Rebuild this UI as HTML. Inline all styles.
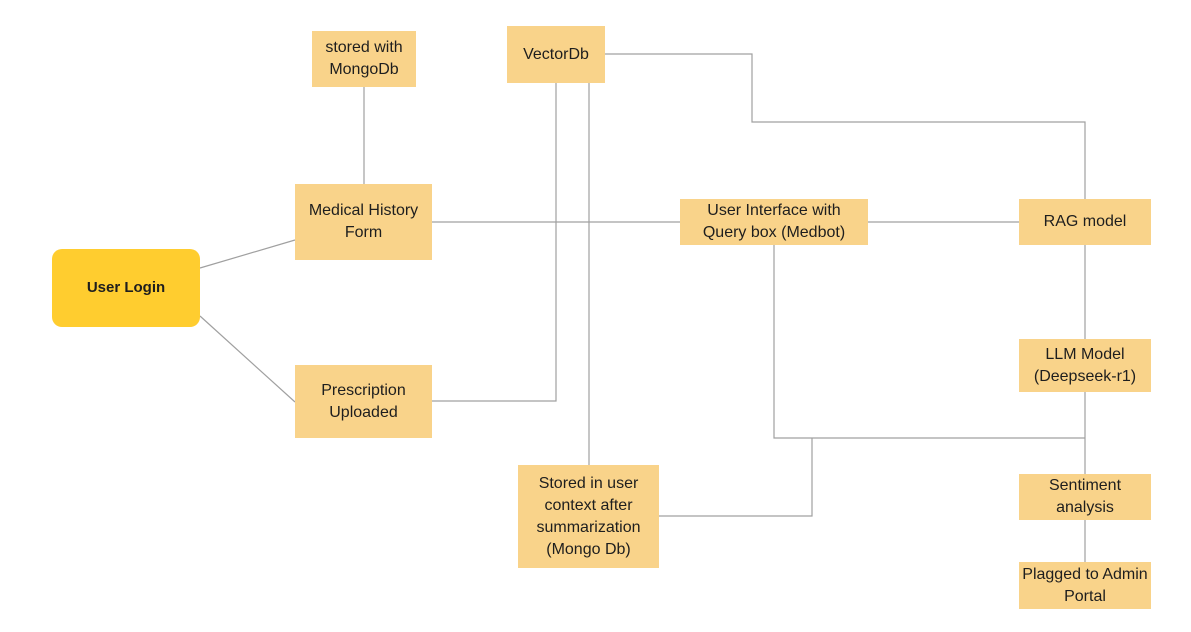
<!DOCTYPE html>
<html><head><meta charset="utf-8"><style>
body{margin:0;width:1191px;height:632px;background:#fff;position:relative;overflow:hidden;font-family:"Liberation Sans",sans-serif;}
.b{position:absolute;background:#F9D38A;display:flex;align-items:center;justify-content:center;text-align:center;font-size:16px;line-height:22px;color:#1e1e1e;white-space:nowrap;}
svg{position:absolute;left:0;top:0;}
</style></head><body>
<svg width="1191" height="632" fill="none" stroke="#a0a0a0" stroke-width="1.2">
<line x1="200" y1="268" x2="295" y2="240"/>
<line x1="200" y1="316" x2="295" y2="402"/>
<line x1="364" y1="87" x2="364" y2="184"/>
<line x1="432" y1="222" x2="680" y2="222"/>
<line x1="868" y1="222" x2="1019" y2="222"/>
<polyline points="605,54 752,54 752,122 1085,122 1085,199"/>
<polyline points="556,83 556,401 432,401"/>
<line x1="589" y1="83" x2="589" y2="465"/>
<line x1="1085" y1="245" x2="1085" y2="339"/>
<line x1="1085" y1="392" x2="1085" y2="474"/>
<line x1="1085" y1="520" x2="1085" y2="562"/>
<polyline points="774,245 774,438 1085,438"/>
<polyline points="812,438 812,516 659,516"/>
</svg>
<div class="b" style="left:52px;top:249px;width:148px;height:78px;background:#FFCD2F;border-radius:10px;font-weight:bold;font-size:15px;">User Login</div>
<div class="b" style="left:312px;top:31px;width:104px;height:56px;">stored with<br>MongoDb</div>
<div class="b" style="left:507px;top:26px;width:98px;height:57px;">VectorDb</div>
<div class="b" style="left:295px;top:184px;width:137px;height:76px;">Medical History<br>Form</div>
<div class="b" style="left:295px;top:365px;width:137px;height:73px;">Prescription<br>Uploaded</div>
<div class="b" style="left:680px;top:199px;width:188px;height:46px;">User Interface with<br>Query box (Medbot)</div>
<div class="b" style="left:1019px;top:199px;width:132px;height:46px;">RAG model</div>
<div class="b" style="left:1019px;top:339px;width:132px;height:53px;">LLM Model<br>(Deepseek-r1)</div>
<div class="b" style="left:1019px;top:474px;width:132px;height:46px;">Sentiment<br>analysis</div>
<div class="b" style="left:1019px;top:562px;width:132px;height:47px;">Plagged to Admin<br>Portal</div>
<div class="b" style="left:518px;top:465px;width:141px;height:103px;">Stored in user<br>context after<br>summarization<br>(Mongo Db)</div>
</body></html>
